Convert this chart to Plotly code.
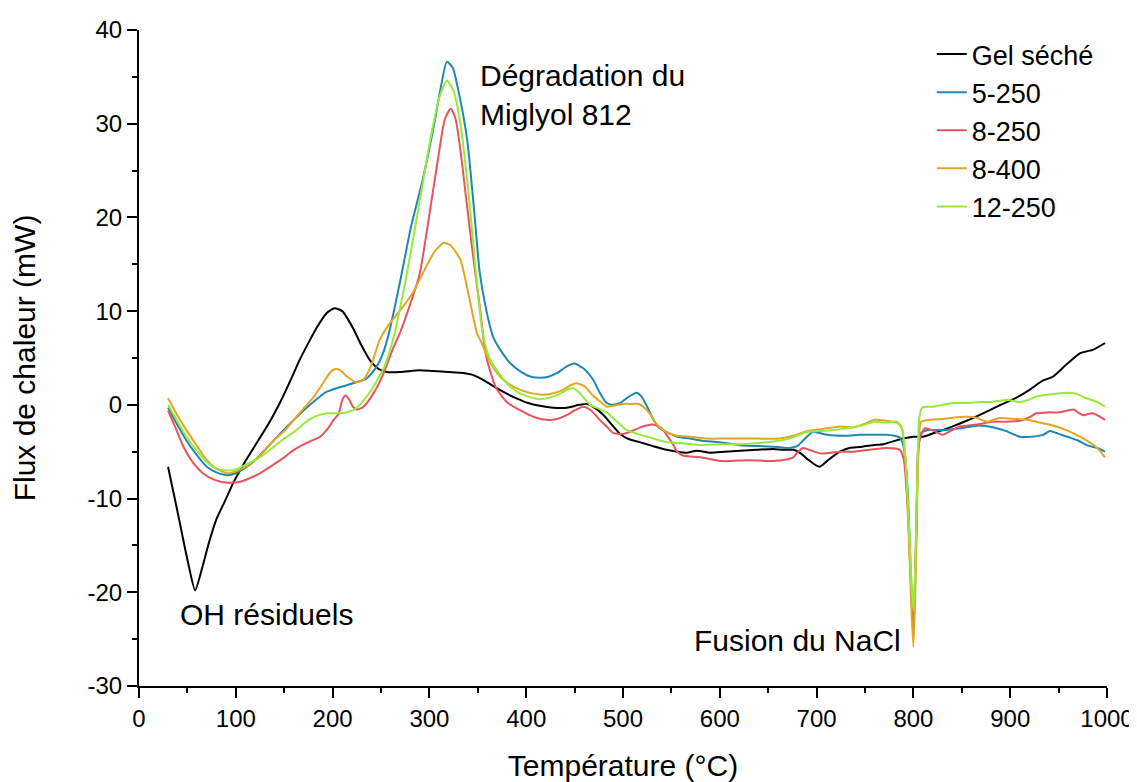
import plotly.graph_objects as go

# ---- Data ----
gel_T = [30, 40, 50, 58, 65, 72, 80, 90, 97, 110, 122, 134, 146, 156, 166, 176, 184, 194, 202, 210, 221, 230, 239, 248, 256, 270, 290, 304, 320, 335, 345, 355, 366, 378, 390, 402, 414, 428, 442, 455, 463, 472, 480, 490, 497, 507, 518, 531, 545, 556, 566, 576, 590, 605, 621, 638, 655, 666, 676, 684, 692, 703, 713, 724, 734, 745, 758, 769, 779, 789, 800, 810, 824, 838, 855, 872, 890, 907, 920, 934, 944, 958, 972, 986, 998]
gel_v = [-6.6, -11.5, -16.5, -19.8, -17.5, -14.8, -12.2, -10.0, -8.4, -6.0, -4.0, -2.0, 0.3, 2.5, 4.8, 6.8, 8.3, 9.8, 10.3, 10.0, 8.2, 6.3, 4.7, 3.8, 3.5, 3.5, 3.7, 3.6, 3.5, 3.4, 3.2, 2.7, 2.0, 1.3, 0.7, 0.2, -0.1, -0.3, -0.3, 0.0, 0.1, -0.4, -1.1, -2.3, -3.1, -3.7, -4.0, -4.4, -4.8, -5.0, -5.1, -4.9, -5.1, -5.0, -4.9, -4.8, -4.7, -4.8, -4.8, -5.2, -5.9, -6.6, -5.8, -5.0, -4.6, -4.5, -4.3, -4.2, -3.9, -3.6, -3.4, -3.4, -2.9, -2.4, -1.7, -0.9, 0.0, 0.8, 1.6, 2.6, 3.0, 4.3, 5.5, 5.9, 6.6]

s5_250_T = [30, 40, 49, 60, 70, 80, 91, 100, 110, 118, 130, 142, 154, 166, 180, 194, 208, 221, 235, 245, 252, 259, 270, 281, 293, 305, 312, 318, 324, 330, 339, 346, 352, 359, 366, 375, 383, 395, 405, 414, 423, 432, 442, 450, 459, 469, 476, 483, 490, 497, 505, 514, 519, 525, 531, 538, 547, 556, 569, 580, 600, 621, 640, 660, 672, 680, 686, 696, 703, 711, 730, 745, 760, 772, 780, 786, 790, 794, 797, 800, 803, 805, 808, 814, 830, 848, 860, 869, 882, 896, 910, 922, 934, 941, 950, 962, 970, 979, 990, 998]
s5_250_v = [-0.3, -2.2, -3.8, -5.4, -6.6, -7.2, -7.5, -7.3, -6.7, -6.1, -4.8, -3.5, -2.2, -1.0, 0.3, 1.4, 1.9, 2.3, 2.8, 4.0, 5.5, 8.0, 13.3, 19.0, 24.0, 30.0, 34.0, 36.6, 36.0, 33.5, 28.3, 21.0, 14.1, 10.0, 7.2, 5.6, 4.5, 3.5, 3.0, 2.9, 3.0, 3.4, 4.1, 4.4, 3.9, 2.7, 1.3, 0.2, 0.0, 0.2, 0.8, 1.3, 0.9, -0.2, -1.5, -2.5, -3.0, -3.4, -3.6, -3.8, -4.0, -4.3, -4.4, -4.5, -4.6, -4.4, -3.8, -2.9, -3.0, -3.2, -3.3, -3.2, -3.2, -3.2, -3.3, -3.5, -4.5, -9.0, -17.0, -24.0, -14.0, -5.0, -3.0, -2.7, -2.7, -2.5, -2.3, -2.2, -2.4, -2.8, -3.4, -3.4, -3.2, -2.8, -3.1, -3.5, -3.8, -4.3, -4.6, -5.0]

s8_250_T = [30, 38, 46, 56, 66, 78, 91, 105, 115, 125, 140, 150, 160, 172, 187, 196, 201, 206, 210, 213, 217, 221, 225, 232, 242, 252, 262, 270, 281, 290, 301, 310, 316, 322, 327, 332, 338, 345, 352, 358, 363, 369, 380, 394, 408, 421, 432, 442, 450, 459, 467, 476, 483, 490, 500, 507, 518, 531, 540, 545, 551, 556, 562, 580, 603, 630, 655, 670, 676, 681, 686, 695, 705, 724, 738, 755, 772, 786, 790, 794, 797, 800, 803, 805, 808, 812, 822, 830, 840, 848, 865, 882, 895, 910, 920, 927, 940, 951, 965, 975, 985, 998]
s8_250_v = [-0.6, -2.5, -4.5, -6.2, -7.3, -8.0, -8.3, -8.2, -7.8, -7.3, -6.3, -5.6, -4.8, -4.1, -3.4, -2.4, -1.6, -1.0, 0.5, 1.0, 0.6, -0.2, -0.5, -0.2, 1.2, 3.2, 5.9, 7.8, 11.0, 14.0, 21.0, 27.0, 30.5, 31.6, 30.5, 27.2, 22.0, 16.0, 10.5, 5.5, 3.5, 1.8, 0.3, -0.6, -1.3, -1.6, -1.5, -1.1, -0.6, -0.2, -0.6, -1.6, -2.3, -3.0, -3.1, -2.9, -2.4, -2.1, -2.5, -3.2, -4.1, -5.0, -5.4, -5.6, -6.0, -5.9, -6.0, -5.8, -5.6, -5.0, -4.6, -4.9, -5.2, -5.0, -5.0, -4.8, -4.6, -4.8, -5.8, -11.0, -18.0, -23.0, -13.0, -4.5, -3.2, -2.5, -2.8, -3.2, -2.7, -2.3, -2.1, -1.8, -1.8, -1.7, -1.3, -0.9, -0.8, -0.8, -0.5, -1.1, -0.9, -1.6]

s8_400_T = [30, 40, 49, 60, 70, 80, 91, 100, 112, 125, 140, 150, 160, 170, 180, 190, 197, 202, 208, 215, 225, 232, 239, 249, 259, 270, 283, 293, 305, 315, 322, 332, 340, 349, 354, 362, 373, 384, 394, 407, 421, 430, 438, 446, 452, 460, 469, 476, 483, 490, 500, 510, 516, 521, 528, 535, 545, 556, 570, 587, 605, 620, 638, 662, 676, 690, 705, 724, 738, 750, 760, 772, 783, 788, 792, 795, 798, 800, 802, 804, 806, 808, 816, 830, 848, 860, 866, 876, 889, 905, 918, 927, 944, 958, 972, 985, 990, 998]
s8_400_v = [0.7, -1.2, -2.7, -4.4, -5.9, -6.8, -7.3, -7.1, -6.5, -5.4, -3.7, -2.8, -1.6, -0.4, 0.8, 2.3, 3.4, 3.8, 3.7, 3.0, 2.4, 2.7, 4.0, 7.0, 8.7, 10.1, 12.0, 14.0, 16.3, 17.3, 17.0, 15.5, 12.0, 7.7, 6.6, 4.7, 3.0, 2.1, 1.6, 1.2, 1.1, 1.3, 1.6, 2.1, 2.3, 2.0, 1.0, 0.4, -0.2, -0.1, 0.1, 0.1, 0.1, -0.2, -1.0, -2.1, -2.9, -3.3, -3.4, -3.6, -3.6, -3.6, -3.6, -3.6, -3.3, -2.8, -2.6, -2.3, -2.4, -2.0, -1.6, -1.7, -1.9, -2.5, -6.0, -13.0, -22.0, -25.8, -20.0, -10.0, -3.0, -1.8, -1.6, -1.5, -1.3, -1.3, -1.4, -1.8, -1.4, -1.5, -1.6, -1.8, -2.2, -2.7, -3.4, -4.2, -4.6, -5.6]

s12_250_T = [30, 40, 49, 60, 70, 80, 91, 100, 112, 125, 140, 150, 160, 168, 177, 186, 194, 202, 210, 218, 225, 236, 246, 254, 262, 272, 283, 292, 301, 310, 318, 325, 332, 339, 345, 350, 355, 362, 373, 384, 394, 405, 414, 425, 435, 442, 448, 455, 466, 475, 483, 493, 504, 515, 525, 535, 545, 562, 580, 600, 620, 638, 655, 672, 682, 690, 705, 724, 738, 750, 760, 772, 783, 788, 792, 795, 798, 800, 802, 804, 806, 809, 820, 841, 855, 869, 880, 893, 900, 910, 918, 927, 940, 958, 968, 979, 990, 998]
s12_250_v = [0.0, -1.8, -3.4, -4.9, -6.1, -6.8, -7.0, -6.9, -6.3, -5.6, -4.4, -3.6, -2.9, -2.2, -1.5, -1.1, -0.9, -0.9, -0.9, -0.7, -0.3, 1.0, 2.6, 4.2, 6.8, 11.5, 17.6, 23.0, 28.3, 32.7, 34.6, 33.5, 30.0, 24.0, 17.6, 12.0, 7.7, 5.0, 3.2, 1.9, 1.2, 0.8, 0.6, 0.8, 1.2, 1.6, 1.8, 1.3, 0.0, -0.4, -0.8, -1.7, -2.7, -3.1, -3.4, -3.7, -4.0, -4.1, -4.3, -4.2, -4.2, -4.1, -3.9, -3.6, -3.2, -2.9, -2.8, -2.6, -2.4, -2.1, -1.8, -1.9, -1.8, -2.4, -6.0, -12.0, -19.0, -22.0, -17.0, -8.0, -1.5, -0.3, -0.2, 0.2, 0.2, 0.3, 0.3, 0.5, 0.5, 0.3, 0.5, 0.9, 1.1, 1.3, 1.2, 0.7, 0.3, -0.2]

series_names = ["Gel séché", "5-250", "8-250", "8-400", "12-250"]
series_T = [gel_T, s5_250_T, s8_250_T, s8_400_T, s12_250_T]
series_v = [gel_v, s5_250_v, s8_250_v, s8_400_v, s12_250_v]
colors = ["#000000", "#1f88b2", "#e8545c", "#e3a623", "#98ea3a"]

x_ticks = list(range(0, 1001, 100))
y_ticks = list(range(-30, 41, 10))
y_ticktext = [str(v) for v in y_ticks]  # hyphen minus as in the original

FONT = "Arial, Liberation Sans, sans-serif"

fig = go.Figure()
for name, T, v, c in zip(series_names, series_T, series_v, colors):
    fig.add_trace(go.Scatter(x=T, y=v, mode="lines", name=name,
                             line=dict(color=c, width=2, shape="spline", smoothing=0.6)))

axis_common = dict(showline=True, linecolor="black", linewidth=2,
                   ticks="outside", ticklen=10, tickwidth=2, tickcolor="black",
                   showgrid=False, zeroline=False, mirror=False, automargin=False,
                   tickfont=dict(family=FONT, size=24, color="black"))

fig.update_xaxes(range=[0, 1000], tickvals=x_ticks, ticktext=[str(t) for t in x_ticks],
                 title=dict(text="Température (°C)", font=dict(family=FONT, size=30, color="black"), standoff=24),
                 minor=dict(dtick=50, ticks="outside", ticklen=5, tickwidth=2, tickcolor="black"),
                 **axis_common)
fig.update_yaxes(range=[-30, 40], tickvals=y_ticks, ticktext=y_ticktext,
                 title=dict(text="Flux de chaleur (mW)", font=dict(family=FONT, size=30, color="black"), standoff=45),
                 minor=dict(dtick=5, ticks="outside", ticklen=5, tickwidth=2, tickcolor="black"),
                 **axis_common)

ann_font = dict(family=FONT, size=30, color="black")
fig.add_annotation(x=40, y=-22.4, text="OH résiduels", showarrow=False,
                   xanchor="left", yanchor="middle", font=ann_font)
fig.add_annotation(x=789, y=-25.1, text="Fusion du NaCl", showarrow=False,
                   xanchor="right", yanchor="middle", font=ann_font)
fig.add_annotation(x=350, y=33.1, text="Dégradation du<br>Miglyol 812", showarrow=False,
                   xanchor="left", yanchor="middle", align="left", font=ann_font)

# The page adds an 8px body margin, so the figure is sized to fit the window.
fig.update_layout(
    width=1129, height=774,
    margin=dict(l=131, r=30, t=22, b=96),
    paper_bgcolor="white", plot_bgcolor="white",
    font=dict(family=FONT, color="black"),
    legend=dict(x=0.819, y=1.0, xanchor="left", yanchor="top",
                font=dict(family=FONT, size=27, color="black"),
                bgcolor="rgba(0,0,0,0)", borderwidth=0, tracegroupgap=0),
)

fig.write_html("out.html")
